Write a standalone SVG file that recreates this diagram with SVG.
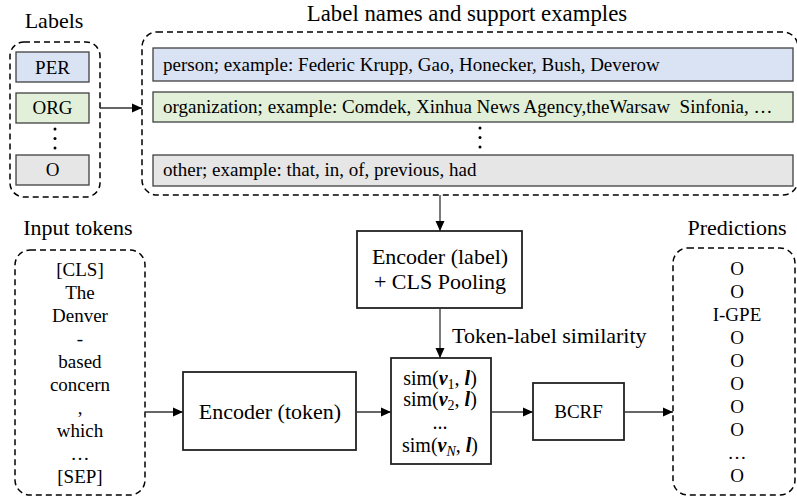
<svg xmlns="http://www.w3.org/2000/svg" width="797" height="497" viewBox="0 0 797 497" font-family="'Liberation Serif','Times New Roman',serif">
<defs>
<marker id="arr" viewBox="0 0 10 10" refX="10" refY="5" markerWidth="10" markerHeight="10" markerUnits="userSpaceOnUse" orient="auto">
<path d="M0,0.5 L10,5 L0,9.5 Z" fill="#000"/>
</marker>
<style>
text{font-family:"Liberation Serif","Times New Roman",serif;fill:#000}
.t{font-size:22px}
.m{font-size:19px}
.s{font-size:20px}
.c{text-anchor:middle}
.dash{fill:none;stroke:#000;stroke-width:1.5;stroke-dasharray:6,4}
.box{fill:#fff;stroke:#222;stroke-width:1.8}
.lb{stroke:#404040;stroke-width:1.3}
.blue{fill:#dae3f3}
.green{fill:#e2f0d9}
.gray{fill:#e7e6e6}
.con{stroke:#333;stroke-width:1.3;fill:none;marker-end:url(#arr)}
.bi{font-weight:bold;font-style:italic}
</style>
</defs>

<g id="labels">
<text class="t c" x="54" y="28">Labels</text>
<rect class="dash" x="10" y="42" width="90" height="155" rx="14"/>
<rect class="lb blue" x="16" y="52" width="73" height="30"/>
<text class="m c" x="52.5" y="74">PER</text>
<rect class="lb green" x="16" y="93" width="73" height="30"/>
<text class="m c" x="52.5" y="114">ORG</text>
<circle cx="55" cy="129" r="1.5"/><circle cx="55" cy="138.5" r="1.5"/><circle cx="55" cy="148" r="1.5"/>
<rect class="lb gray" x="16" y="155" width="73" height="30"/>
<text class="m c" x="52.5" y="176">O</text>
</g>

<g id="label-names">
<text class="c" font-size="22.8" x="467" y="21">Label names and support examples</text>
<rect class="dash" x="142" y="32" width="656" height="163" rx="15"/>
<rect class="lb blue" x="153" y="48" width="640" height="33"/>
<text class="m" x="163" y="71">person; example: Federic Krupp, Gao, Honecker, Bush, Deverow</text>
<rect class="lb green" x="153" y="92" width="640" height="30"/>
<text class="m" x="163" y="113">organization; example: Comdek, Xinhua News Agency,theWarsaw&#160; Sinfonia, …</text>
<circle cx="480" cy="128" r="1.5"/><circle cx="480" cy="137.5" r="1.5"/><circle cx="480" cy="147" r="1.5"/>
<rect class="lb gray" x="153" y="155" width="640" height="31"/>
<text class="m" x="163" y="176">other; example: that, in, of, previous, had</text>
</g>

<g id="input-tokens">
<text class="t c" x="78" y="235">Input tokens</text>
<rect class="dash" x="15" y="250" width="130" height="245" rx="15"/>
<text class="m c" x="80" y="276">[CLS]</text>
<text class="m c" x="80" y="299">The</text>
<text class="m c" x="80" y="322">Denver</text>
<text class="m c" x="80" y="345">-</text>
<text class="m c" x="80" y="368">based</text>
<text class="m c" x="80" y="391">concern</text>
<text class="m c" x="80" y="414">,</text>
<text class="m c" x="80" y="437">which</text>
<text class="m c" x="80" y="460">…</text>
<text class="m c" x="80" y="483">[SEP]</text>
</g>

<g id="encoder-label">
<rect class="box" x="357" y="231" width="165" height="77"/>
<text class="t c" x="440" y="264">Encoder (label)</text>
<text class="t c" x="440" y="289">+ CLS Pooling</text>
</g>

<g id="encoder-token">
<rect class="box" x="183" y="372" width="173" height="78"/>
<text class="t c" x="270" y="419">Encoder (token)</text>
</g>

<g id="similarity">
<rect class="box" x="391" y="358" width="100" height="106"/>
<text class="s c" x="440" y="385">sim(<tspan class="bi">v</tspan><tspan font-size="14" dy="4">1</tspan><tspan dy="-4">, </tspan><tspan class="bi">l</tspan>)</text>
<text class="s c" x="440" y="406">sim(<tspan class="bi">v</tspan><tspan font-size="14" dy="4">2</tspan><tspan dy="-4">, </tspan><tspan class="bi">l</tspan>)</text>
<text class="s c" x="440" y="429">...</text>
<text class="s c" x="440" y="452">sim(<tspan class="bi">v</tspan><tspan font-size="14" font-style="italic" dy="4">N</tspan><tspan dy="-4">, </tspan><tspan class="bi">l</tspan>)</text>
</g>

<g id="bcrf">
<rect class="box" x="533" y="383" width="91" height="57"/>
<text class="m c" x="578.5" y="418">BCRF</text>
</g>

<g id="predictions">
<text class="t c" x="737" y="235">Predictions</text>
<rect class="dash" x="673" y="248" width="122" height="247" rx="15"/>
<text class="m c" x="737" y="275">O</text>
<text class="m c" x="737" y="298">O</text>
<text class="m c" x="737" y="321">I-GPE</text>
<text class="m c" x="737" y="344">O</text>
<text class="m c" x="737" y="367">O</text>
<text class="m c" x="737" y="390">O</text>
<text class="m c" x="737" y="413">O</text>
<text class="m c" x="737" y="436">O</text>
<text class="m c" x="737" y="459">…</text>
<text class="m c" x="737" y="482">O</text>
</g>

<g id="connectors">
<line class="con" x1="100" y1="108" x2="142" y2="108"/>
<line class="con" x1="440" y1="195" x2="440" y2="231"/>
<line class="con" x1="440" y1="308" x2="440" y2="358"/>
<text class="t" x="452" y="343">Token-label similarity</text>
<line class="con" x1="145" y1="412" x2="183" y2="412"/>
<line class="con" x1="356" y1="412" x2="391" y2="412"/>
<line class="con" x1="491" y1="412" x2="533" y2="412"/>
<line class="con" x1="624" y1="412" x2="673" y2="412"/>
</g>
</svg>
